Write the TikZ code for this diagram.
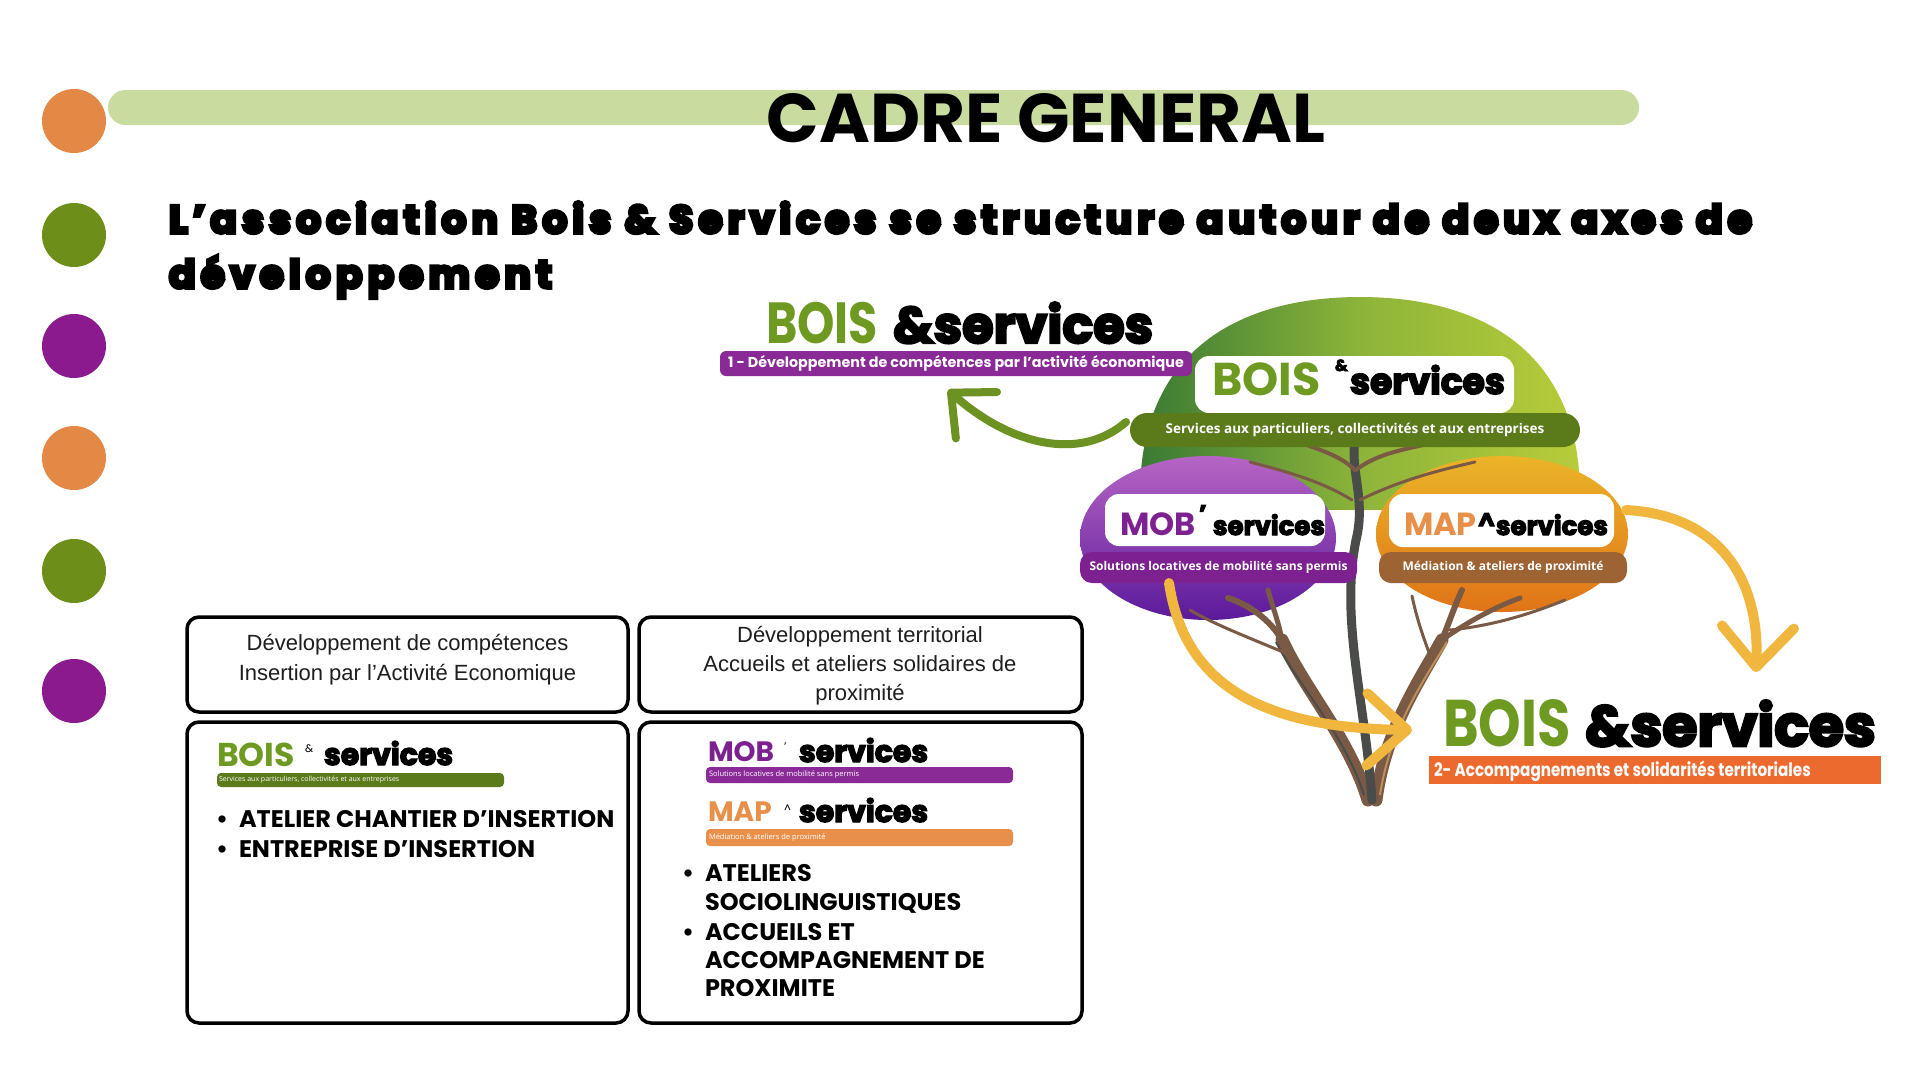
\documentclass[tikz,border=0pt]{standalone}
\usepackage{fontspec}
\usetikzlibrary{arrows.meta}
\newfontfamily\pop{Poppins}
\newfontfamily\popsp{Poppins}[LetterSpace=13.5,BoldFeatures={FakeBold=9}]
\newfontfamily\popfb{Poppins}[BoldFeatures={FakeBold=4.5}]
\newfontfamily\popc{Poppins}[FakeStretch=0.82]
\newfontfamily\lib{Liberation Sans}
\newfontfamily\osn{Open Sans}
\newcommand\fsz[2]{\fontsize{#1}{#2}\selectfont}
\definecolor{barg}{HTML}{CADB9F}
\definecolor{corange}{HTML}{E38845}
\definecolor{cgreen}{HTML}{6E8E1A}
\definecolor{cpurple}{HTML}{8B1A8F}
\definecolor{lgreen}{HTML}{6E9A22}
\definecolor{sgreen}{HTML}{5B7B1B}
\definecolor{ppurple}{HTML}{8A2A97}
\definecolor{mpurple}{HTML}{7E2190}
\definecolor{mapor}{HTML}{E8904A}
\definecolor{brownbar}{HTML}{9E6332}
\definecolor{orbar}{HTML}{EC6A2E}
\definecolor{yarrow}{HTML}{F0B63E}
\definecolor{garrow}{HTML}{6C9222}
\definecolor{txt}{HTML}{1E1E1E}
\definecolor{trunk}{HTML}{7A5A45}
\definecolor{trunkd}{HTML}{4A4C4A}
\definecolor{trunkl}{HTML}{C0905A}
\definecolor{domeL}{HTML}{3A7A34}
\definecolor{domeM}{HTML}{8DB43A}
\definecolor{domeR}{HTML}{B8CC3A}
\definecolor{purT}{HTML}{B565C4}
\definecolor{purB}{HTML}{5B1A9B}
\definecolor{orT}{HTML}{EAB428}
\definecolor{orM}{HTML}{B4702C}
\definecolor{orB}{HTML}{E07418}
\tikzset{
  every node/.style={inner sep=0pt, outer sep=0pt},
  lbl/.style={anchor=base west},
  framebox/.style={draw=black, line width=3.5pt, rounded corners=12pt, anchor=north west},
  whitebox/.style={fill=white, rounded corners=14pt, anchor=north west},
  barnode/.style={anchor=north west, text=white},
  garrowstyle/.style={draw=garrow, line width=8pt, line cap=round, -{Straight Barb[length=34pt,width=62pt,round]}},
  yarrowstyle/.style={draw=yarrow, line width=10pt, line cap=round, -{Straight Barb[length=40pt,width=72pt,round]}},
  bullettext/.style={lbl, font=\pop\bfseries\fsz{24}{24}, text=black},
  branch/.style={draw=trunk, line cap=round},
}
\begin{document}
\begin{tikzpicture}[x=1pt,y=-1pt]
\useasboundingbox (0,0) rectangle (1920,1080);
\fill[white] (0,0) rectangle (1920,1080);

% title bar and dots
\fill[barg, rounded corners=17.5pt] (108,90) rectangle (1639,125);
\foreach \yy/\cc in {121/corange,235/cgreen,346/cpurple,458/corange,571/cgreen,691/cpurple}
  \fill[\cc] (74,\yy) circle (32);
\node[anchor=base] (title) at (1046,142) {\pop\bfseries\fsz{69}{69}CADRE GENERAL};
\node[lbl] (sub1) at (169,233) {\popsp\bfseries\fsz{39}{39}L’association Bois \& Services se structure autour de deux axes de};
\node[lbl] (sub2) at (169,288) {\popsp\bfseries\fsz{39}{39}développement};

% ---------- tree ----------
\shade[left color=domeL, right color=domeR, middle color=domeM]
  (1140,495) .. controls (1140,350) and (1240,297) .. (1360,297)
  .. controls (1480,297) and (1580,350) .. (1580,495)
  .. controls (1480,515) and (1240,515) .. cycle;
\shade[top color=purT, bottom color=purB] (1208,538) ellipse [x radius=128, y radius=82];
\shade[top color=orT, middle color=orM, bottom color=orB] (1502,534) ellipse [x radius=126, y radius=78];
% trunk
\draw[trunk, line width=13pt, line cap=round] (1368,800) .. controls (1350,740) and (1305,690) .. (1282,640);
\draw[trunk, line width=13pt, line cap=round] (1376,800) .. controls (1385,730) and (1420,680) .. (1442,640);
\draw[trunkd, line width=9pt, line cap=round] (1372,800) .. controls (1365,700) and (1340,620) .. (1356,540) .. controls (1366,500) and (1350,470) .. (1355,440);
\draw[trunkd, line width=2pt] (1364,795) .. controls (1345,735) and (1300,688) .. (1276,642);
\draw[trunkl, line width=2pt] (1380,795) .. controls (1390,728) and (1424,680) .. (1447,642);
\draw[branch, line width=6pt] (1282,640) .. controls (1270,620) and (1250,605) .. (1228,598);
\draw[branch, line width=5pt] (1282,640) .. controls (1278,620) and (1272,605) .. (1268,590);
\draw[branch, line width=3pt] (1290,655) .. controls (1255,640) and (1215,625) .. (1190,610);
\draw[branch, line width=6pt] (1442,640) .. controls (1450,620) and (1455,605) .. (1462,590);
\draw[branch, line width=5pt] (1442,640) .. controls (1470,620) and (1500,605) .. (1520,598);
\draw[branch, line width=3pt] (1432,660) .. controls (1420,630) and (1415,610) .. (1412,596);
\draw[branch, line width=3pt] (1450,630) .. controls (1500,625) and (1540,610) .. (1565,600);
\draw[branch, line width=4pt] (1355,470) .. controls (1340,455) and (1315,448) .. (1292,440);
\draw[branch, line width=4pt] (1356,470) .. controls (1375,455) and (1400,450) .. (1428,444);
\draw[branch, line width=3pt] (1352,500) .. controls (1320,480) and (1280,470) .. (1250,462);
\draw[branch, line width=3pt] (1360,500) .. controls (1400,480) and (1440,470) .. (1475,462);

% tree labels
\node[whitebox, minimum width=319pt, minimum height=57pt] (tbox) at (1195,356) {};
\node[lbl, text=lgreen] (tbois) at (1212,395) {\pop\bfseries\fsz{46}{46}BOIS};
\node[lbl] (tamp) at (1335,371) {\popfb\bfseries\fsz{16}{16}\&};
\node[lbl] (tserv) at (1350,394) {\popfb\bfseries\fsz{36}{36}services};
\node[barnode, fill=sgreen, rounded corners=17pt, minimum width=450pt, minimum height=34pt,
      font=\osn\bfseries\fsz{13.5}{13.5}] (tbar) at (1130,413) {Services aux particuliers, collectivités et aux entreprises};

\node[whitebox, minimum width=220pt, minimum height=52pt] (mbox) at (1105,494) {};
\node[lbl, text=mpurple] (mob) at (1120,535) {\pop\bfseries\fsz{32}{32}MOB};
\node[lbl] (mq) at (1199,522) {\popfb\bfseries\fsz{24}{24}’};
\node[lbl] (mserv) at (1213,535) {\popfb\bfseries\fsz{26}{26}services};
\node[barnode, fill=mpurple, rounded corners=12pt, minimum width=277pt, minimum height=31pt,
      font=\osn\bfseries\fsz{12}{12}] (mbar) at (1080,552) {Solutions locatives de mobilité sans permis};

\node[whitebox, minimum width=225pt, minimum height=53pt] (pbox) at (1389,494) {};
\node[lbl, text=mapor] (map) at (1404,535) {\pop\bfseries\fsz{32}{32}MAP};
\node[lbl] (pq) at (1478,530) {\popfb\bfseries\fsz{24}{24}\textasciicircum};
\node[lbl] (pserv) at (1496,535) {\popfb\bfseries\fsz{26}{26}services};
\node[barnode, fill=brownbar, rounded corners=12pt, minimum width=248pt, minimum height=31pt,
      font=\osn\bfseries\fsz{12}{12}] (pbar) at (1379,552) {Médiation \& ateliers de proximité};

% ---------- logo 1 (top left) ----------
\node[lbl, text=lgreen] (l1bois) at (766,343) {\popc\bfseries\fsz{58}{58}BOIS};
\node[lbl] (l1serv) at (893,343) {\popfb\bfseries\fsz{51}{51}\&services};
\node[barnode, fill=ppurple, rounded corners=6pt, minimum width=472pt, minimum height=25pt,
      font=\pop\bfseries\fsz{14.3}{14.3}] (l1bar) at (720,351) {1 - Développement de compétences par l’activité économique};

% ---------- logo 2 (bottom right) ----------
\node[lbl, text=lgreen] (l2bois) at (1443,746) {\popc\bfseries\fsz{66}{66}BOIS};
\node[lbl] (l2serv) at (1585,746) {\popfb\bfseries\fsz{57}{57}\&services};
\fill[orbar] (1429,756) rectangle (1881,784);
\node[anchor=west, text=white] (l2txt) at (1434,771) {\popc\bfseries\fsz{18.5}{18.5}2- Accompagnements et solidarités territoriales};

% ---------- arrows ----------
\coordinate (gs) at (1126,422);
\coordinate (ge) at (948,390);
\draw[garrowstyle] (gs) .. controls (1080,462) and (1010,445) .. (ge);
\coordinate (y1s) at (1169,583);
\coordinate (y1e) at (1412,730);
\draw[yarrowstyle] (y1s) .. controls (1185,690) and (1270,728) .. (y1e);
\coordinate (y2s) at (1626,510);
\coordinate (y2e) at (1756,672);
\draw[yarrowstyle] (y2s) .. controls (1720,515) and (1760,580) .. (y2e);

% ---------- boxes ----------
\node[framebox, minimum width=441pt, minimum height=95pt] (boxA) at (187,617) {};
\node[framebox, minimum width=443pt, minimum height=95pt] (boxB) at (639,617) {};
\node[framebox, minimum width=441pt, minimum height=301pt] (boxC) at (187,722) {};
\node[framebox, minimum width=443pt, minimum height=301pt] (boxD) at (639,722) {};
\node[align=center, text=txt, font=\lib\fsz{22}{30}] (hA) at (407.5,660) {Développement de compétences\\Insertion par l’Activité Economique};
\node[align=center, text=txt, font=\lib\fsz{22}{29}] (hB) at (860,666) {Développement territorial\\Accueils et ateliers solidaires de\\proximité};

% box C content
\node[lbl, text=lgreen] (cbois) at (217,766) {\pop\bfseries\fsz{33}{33}BOIS};
\node[lbl] (camp) at (305,752) {\pop\fsz{11}{11}\&};
\node[lbl] (cserv) at (324,765) {\popfb\bfseries\fsz{30}{30}services};
\fill[sgreen, rounded corners=4pt] (217,773) rectangle (504,787);
\node[anchor=west, text=white] (cbar) at (219,780) {\osn\fsz{7}{7}Services aux particuliers, collectivités et aux entreprises};
\node[bullettext] (cb1d) at (216,827) {\textbullet};
\node[bullettext] (cb1) at (239,827) {ATELIER CHANTIER D’INSERTION};
\node[bullettext] (cb2d) at (216,857) {\textbullet};
\node[bullettext] (cb2) at (239,857) {ENTREPRISE D’INSERTION};

% box D content
\node[lbl, text=mpurple] (dmob) at (708,761) {\pop\bfseries\fsz{28}{28}MOB};
\node[lbl] (dmq) at (784,750) {\pop\fsz{11}{11}’};
\node[lbl] (dmserv) at (799,762) {\popfb\bfseries\fsz{30}{30}services};
\fill[ppurple, rounded corners=4pt] (706,767) rectangle (1013,783);
\node[anchor=west, text=white] (dmbar) at (709,775) {\osn\fsz{7.5}{7.5}Solutions locatives de mobilité sans permis};
\node[lbl, text=mapor] (dmap) at (708,821) {\pop\bfseries\fsz{28}{28}MAP};
\node[lbl] (dpq) at (784,812) {\pop\fsz{11}{11}\textasciicircum};
\node[lbl] (dpserv) at (799,822) {\popfb\bfseries\fsz{30}{30}services};
\fill[mapor, rounded corners=4pt] (706,829) rectangle (1013,846);
\node[anchor=west, text=white] (dpbar) at (709,837.5) {\osn\fsz{7.5}{7.5}Médiation \& ateliers de proximité};
\node[bullettext] (db1d) at (682,881) {\textbullet};
\node[bullettext] (db1) at (705,881) {ATELIERS};
\node[bullettext] (db1b) at (705,910) {SOCIOLINGUISTIQUES};
\node[bullettext] (db2d) at (682,940) {\textbullet};
\node[bullettext] (db2) at (705,940) {ACCUEILS ET};
\node[bullettext] (db2b) at (705,968) {ACCOMPAGNEMENT DE};
\node[bullettext] (db2c) at (705,996) {PROXIMITE};
\end{tikzpicture}
\end{document}
